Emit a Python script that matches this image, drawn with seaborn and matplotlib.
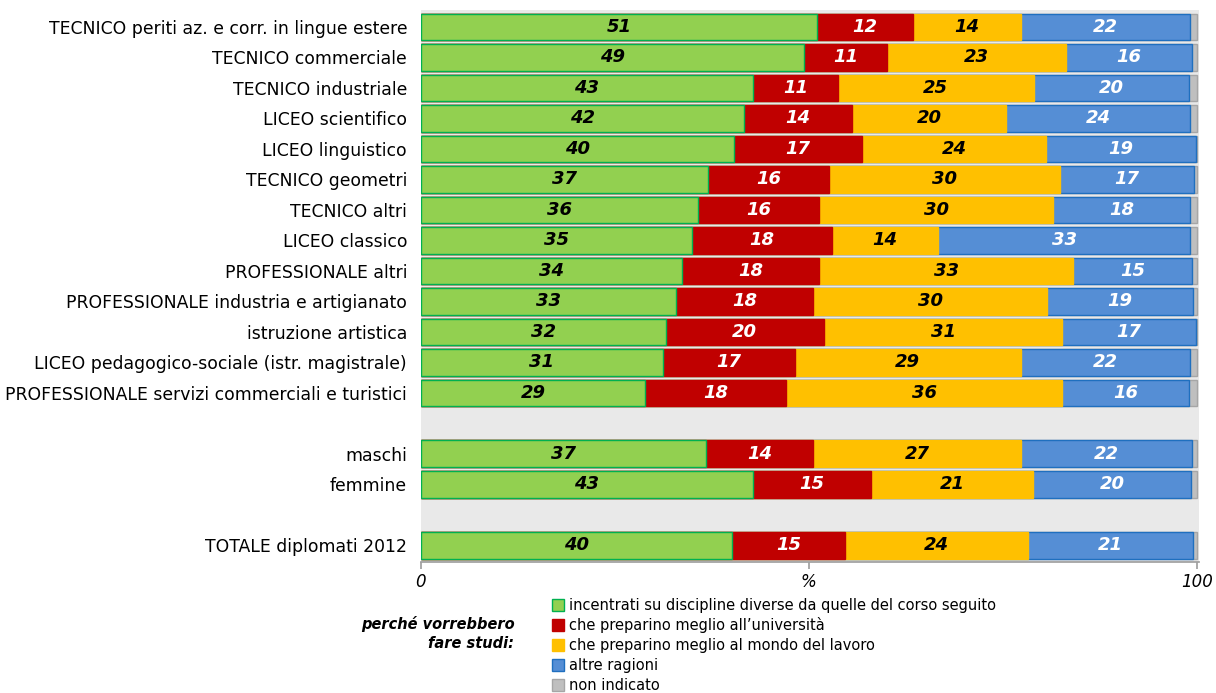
import numpy as np
import pandas as pd
import seaborn as sns
import matplotlib.pyplot as plt
from matplotlib.lines import Line2D


# =========================================================
# DATA
# =========================================================

categories = [
    "TECNICO periti az. e corr. in lingue estere",
    "TECNICO commerciale",
    "TECNICO industriale",
    "LICEO scientifico",
    "LICEO linguistico",
    "TECNICO geometri",
    "TECNICO altri",
    "LICEO classico",
    "PROFESSIONALE altri",
    "PROFESSIONALE industria e artigianato",
    "istruzione artistica",
    "LICEO pedagogico-sociale (istr. magistrale)",
    "PROFESSIONALE servizi commerciali e turistici",
    "maschi",
    "femmine",
    "TOTALE diplomati 2012",
]
# empty rows used as separators
row_order = categories[:13] + [" "] + categories[13:15] + ["  "] + categories[15:]

diverse = [51.0, 49.4, 42.8, 41.6, 40.3, 37.0, 35.7, 34.9, 33.6, 32.9, 31.6, 31.2, 28.9, 36.7, 42.8, 40.1]
universita = [12.4, 10.7, 10.9, 14.0, 16.6, 15.6, 15.6, 18.1, 17.7, 17.7, 20.3, 17.0, 18.1, 13.9, 15.2, 14.6]
lavoro = [13.9, 23.1, 25.3, 19.8, 23.7, 29.8, 30.2, 13.6, 32.8, 30.1, 30.8, 29.1, 35.7, 26.7, 20.9, 23.6]
altre = [21.9, 16.2, 20.0, 23.8, 19.3, 17.2, 17.7, 32.6, 15.3, 18.8, 17.2, 21.9, 16.3, 22.1, 20.4, 21.2]
non_indicato = [round(100 - a - b - c - d, 1) for a, b, c, d in zip(diverse, universita, lavoro, altre)]

series_names = [
    "incentrati su discipline diverse da quelle del corso seguito",
    "che preparino meglio all\u2019universit\u00e0",
    "che preparino meglio al mondo del lavoro",
    "altre ragioni",
    "non indicato",
]
fill_colors = ["#92D050", "#C00000", "#FFC000", "#558ED5", "#BFBFBF"]
edge_colors = ["#00B050", "#C00000", "#FFC000", "#1F6FBF", "#A6A6A6"]
text_colors = ["black", "white", "black", "white", None]


# =========================================================
# PLOT
# =========================================================

df = pd.DataFrame({
    "categoria": categories,
    series_names[0]: diverse,
    series_names[1]: universita,
    series_names[2]: lavoro,
    series_names[3]: altre,
    series_names[4]: non_indicato,
})
cum = df[series_names].cumsum(axis=1)

sns.set_theme(style="white")
plt.rcParams["font.family"] = ["DejaVu Sans"]
plt.rcParams["text.color"] = "black"
plt.rcParams["xtick.color"] = "black"
plt.rcParams["ytick.color"] = "black"

fig = plt.figure(figsize=(12.16, 6.93), dpi=100)
ax = fig.add_axes([0.3462, 0.189, 0.6398, 0.7965])
ax.set_facecolor("#E9E9E9")

# stacked bars: draw cumulative totals from the last series down to the first
for i in range(len(series_names) - 1, -1, -1):
    sns.barplot(
        x=cum[series_names[i]], y=df["categoria"], order=row_order,
        orient="h", color=fill_colors[i], saturation=1, width=0.87,
        edgecolor=edge_colors[i], linewidth=1, ax=ax,
    )

# value labels
ypos = {name: k for k, name in enumerate(row_order)}
for i, name in enumerate(series_names[:4]):
    for _, row in df.iterrows():
        v = row[name]
        start = cum.loc[_, name] - v
        ax.text(start + v / 2, ypos[row["categoria"]], f"{int(round(v))}",
                ha="center", va="center", fontsize=13, fontweight="bold",
                fontstyle="italic", color=text_colors[i])

ax.set_xlim(0, 100.3)
ax.set_ylim(len(row_order) - 0.45, -0.55)
ax.set_xlabel("")
ax.set_ylabel("")
ax.set_xticks([0, 50, 100])
ax.set_xticklabels(["0", "%", "100"], fontsize=12, fontstyle="italic")
ax.tick_params(axis="x", length=5, color="#A0A0A0", pad=3, bottom=True)
ax.tick_params(axis="y", length=0, pad=10, labelsize=12.4)
for side in ["top", "right", "left"]:
    ax.spines[side].set_visible(False)
ax.spines["bottom"].set_color("#A0A0A0")

# legend
handles = [
    Line2D([0], [0], marker="s", linestyle="", markersize=8,
           markerfacecolor=fill_colors[i], markeredgecolor=edge_colors[i])
    for i in range(len(series_names))
]
fig.legend(handles, series_names, loc="upper left", bbox_to_anchor=(0.449, 0.146),
           frameon=False, fontsize=10.5, handlelength=0.8, handletextpad=0.4,
           labelspacing=0.33, borderaxespad=0)
fig.text(0.423, 0.086, "perch\u00e9 vorrebbero\nfare studi:", ha="right", va="center",
         fontsize=10.5, fontweight="bold", fontstyle="italic", linespacing=1.3)

fig.savefig("out.png", dpi=100)
